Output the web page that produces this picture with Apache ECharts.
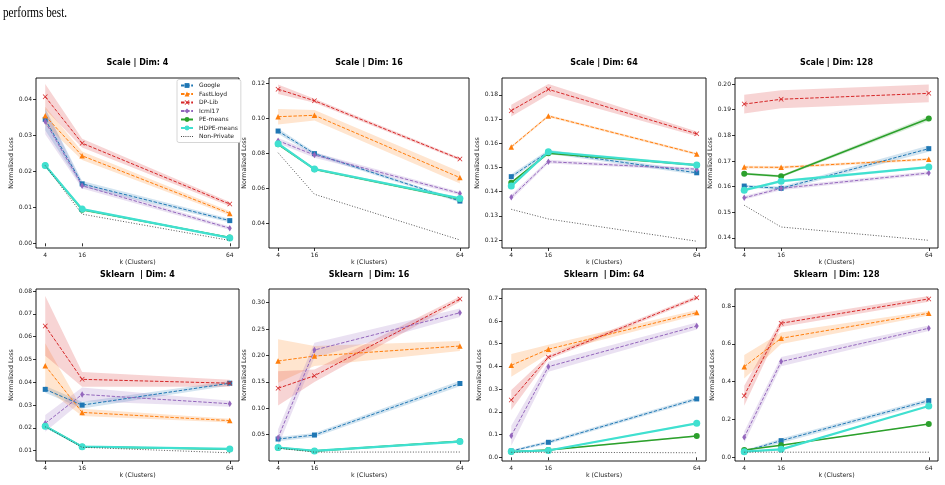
<!DOCTYPE html>
<html>
<head>
<meta charset="utf-8">
<script src="https://cdn.jsdelivr.net/npm/echarts@6/dist/echarts.min.js"></script>
<style>
html,body{margin:0;padding:0;background:#fff;}
#chart{width:945px;height:485px;}
</style>
</head>
<body>
<div id="chart"></div>
<script>
// ---------- DATA ----------
const kValues = [4, 16, 64];
const methodNames = ['Google', 'FastLloyd', 'DP-Lib', 'Icml17', 'PE-means', 'HDPE-means', 'Non-Private'];
const panelTitles = ['Scale | Dim: 4', 'Scale | Dim: 16', 'Scale | Dim: 64', 'Scale | Dim: 128',
                     'Sklearn  | Dim: 4', 'Sklearn  | Dim: 16', 'Sklearn  | Dim: 64', 'Sklearn  | Dim: 128'];
const xTickValues = [4, 16, 64];
const xAxisLabel = 'k (Clusters)';
const yAxisLabel = 'Normalized Loss';
const captionText = 'performs best.';

// rows: Google, FastLloyd, DP-Lib, Icml17, PE-means, HDPE-means, Non-Private
const scaleDim4 = [
  [0.0344, 0.0165, 0.0063],
  [0.0354, 0.0243, 0.0083],
  [0.0407, 0.0278, 0.0109],
  [0.0338, 0.0160, 0.0042],
  [0.0216, 0.0093, 0.0016],
  [0.0216, 0.0095, 0.0015],
  [0.0216, 0.0081, 0.0008]
];
const scaleDim16 = [
  [0.0927, 0.0798, 0.0527],
  [0.1009, 0.1017, 0.0661],
  [0.1166, 0.1100, 0.0767],
  [0.0872, 0.0790, 0.0571],
  [0.0851, 0.0709, 0.0539],
  [0.0855, 0.0710, 0.0542],
  [0.0803, 0.0566, 0.0305]
];
const scaleDim64 = [
  [0.1462, 0.1565, 0.1478],
  [0.1585, 0.1713, 0.1556],
  [0.1735, 0.1823, 0.1639],
  [0.1377, 0.1524, 0.1493],
  [0.1437, 0.1559, 0.1510],
  [0.1423, 0.1565, 0.1510],
  [0.1327, 0.1287, 0.1195]
];
const scaleDim128 = [
  [0.1602, 0.1593, 0.1748],
  [0.1676, 0.1675, 0.1707],
  [0.1922, 0.1941, 0.1964],
  [0.1556, 0.1593, 0.1653],
  [0.1650, 0.1640, 0.1866],
  [0.1586, 0.1621, 0.1676],
  [0.1527, 0.1442, 0.1390]
];
const sklearnDim4 = [
  [0.0369, 0.0300, 0.0396],
  [0.0473, 0.0268, 0.0232],
  [0.0647, 0.0413, 0.0396],
  [0.0220, 0.0347, 0.0306],
  [0.0208, 0.0118, 0.0107],
  [0.0207, 0.0118, 0.0108],
  [0.0205, 0.0115, 0.0091]
];
const sklearnDim16 = [
  [0.0418, 0.0494, 0.1470],
  [0.1896, 0.1990, 0.2180],
  [0.1379, 0.1617, 0.3070],
  [0.0443, 0.2104, 0.2810],
  [0.0254, 0.0191, 0.0375],
  [0.0258, 0.0193, 0.0370],
  [0.0245, 0.0170, 0.0172]
];
const sklearnDim64 = [
  [0.0278, 0.0660, 0.2570],
  [0.4050, 0.4758, 0.6370],
  [0.2524, 0.4405, 0.7030],
  [0.0952, 0.3990, 0.5780],
  [0.0247, 0.0320, 0.0938],
  [0.0250, 0.0300, 0.1497],
  [0.0220, 0.0220, 0.0200]
];
const sklearnDim128 = [
  [0.0317, 0.0880, 0.2995],
  [0.4790, 0.6295, 0.7620],
  [0.3260, 0.7090, 0.8376],
  [0.1060, 0.5060, 0.6825],
  [0.0386, 0.0635, 0.1760],
  [0.0296, 0.0420, 0.2714],
  [0.0270, 0.0270, 0.0270]
];

// half-widths of the shaded bands (Google, FastLloyd, DP-Lib, Icml17, PE-means, HDPE-means)
const scaleDim4Err = [
  [0.0030, 0.0008, 0.0005],
  [0.0025, 0.0012, 0.0006],
  [0.0035, 0.0012, 0.0006],
  [0.0035, 0.0008, 0.0005],
  [0.0003, 0.0003, 0.0002],
  [0.0003, 0.0003, 0.0002]
];
const scaleDim16Err = [
  [0.0015, 0.0010, 0.0008],
  [0.0044, 0.0030, 0.0033],
  [0.0027, 0.0012, 0.0008],
  [0.0015, 0.0015, 0.0010],
  [0.0007, 0.0007, 0.0007],
  [0.0007, 0.0007, 0.0007]
];
const scaleDim64Err = [
  [0.0010, 0.0008, 0.0008],
  [0.0005, 0.0005, 0.0005],
  [0.0024, 0.0022, 0.0010],
  [0.0010, 0.0008, 0.0006],
  [0.0005, 0.0005, 0.0005],
  [0.0005, 0.0005, 0.0005]
];
const scaleDim128Err = [
  [0.0005, 0.0007, 0.0012],
  [0.0005, 0.0005, 0.0005],
  [0.0037, 0.0035, 0.0035],
  [0.0007, 0.0007, 0.0007],
  [0.0005, 0.0005, 0.0010],
  [0.0005, 0.0005, 0.0005]
];
const sklearnDim4Err = [
  [0.0015, 0.0015, 0.0010],
  [0.0098, 0.0016, 0.0008],
  [0.0131, 0.0032, 0.0015],
  [0.0037, 0.0030, 0.0013],
  [0.0004, 0.0004, 0.0004],
  [0.0004, 0.0004, 0.0004]
];
const sklearnDim16Err = [
  [0.004, 0.004, 0.005],
  [0.041, 0.019, 0.0095],
  [0.0325, 0.012, 0.005],
  [0.016, 0.014, 0.008],
  [0.002, 0.002, 0.002],
  [0.002, 0.002, 0.002]
];
const sklearnDim64Err = [
  [0.004, 0.008, 0.008],
  [0.050, 0.020, 0.012],
  [0.044, 0.010, 0.008],
  [0.044, 0.022, 0.015],
  [0.003, 0.003, 0.003],
  [0.003, 0.003, 0.003]
];
const sklearnDim128Err = [
  [0.005, 0.012, 0.012],
  [0.062, 0.030, 0.012],
  [0.053, 0.020, 0.015],
  [0.030, 0.025, 0.015],
  [0.003, 0.003, 0.003],
  [0.003, 0.003, 0.003]
];

// y tick labels per panel
const scaleDim4Ticks = ['0.00', '0.01', '0.02', '0.03', '0.04'];
const scaleDim16Ticks = ['0.04', '0.06', '0.08', '0.10', '0.12'];
const scaleDim64Ticks = ['0.12', '0.13', '0.14', '0.15', '0.16', '0.17', '0.18'];
const scaleDim128Ticks = ['0.14', '0.15', '0.16', '0.17', '0.18', '0.19', '0.20'];
const sklearnDim4Ticks = ['0.01', '0.02', '0.03', '0.04', '0.05', '0.06', '0.07', '0.08'];
const sklearnDim16Ticks = ['0.05', '0.10', '0.15', '0.20', '0.25', '0.30'];
const sklearnDim64Ticks = ['0.0', '0.1', '0.2', '0.3', '0.4', '0.5', '0.6', '0.7'];
const sklearnDim128Ticks = ['0.0', '0.2', '0.4', '0.6', '0.8'];

// y ranges per panel [min, max]
const yRanges = [
  [-0.0013, 0.0459], [0.0259, 0.1230], [0.1167, 0.1870], [0.1360, 0.2024],
  [0.0055, 0.0809], [0.0002, 0.3260], [-0.0163, 0.7410], [-0.0196, 0.8900]
];

// ---------- STYLES ----------
const panelValues = [scaleDim4, scaleDim16, scaleDim64, scaleDim128, sklearnDim4, sklearnDim16, sklearnDim64, sklearnDim128];
const panelErrs = [scaleDim4Err, scaleDim16Err, scaleDim64Err, scaleDim128Err, sklearnDim4Err, sklearnDim16Err, sklearnDim64Err, sklearnDim128Err];
const panelTicks = [scaleDim4Ticks, scaleDim16Ticks, scaleDim64Ticks, scaleDim128Ticks, sklearnDim4Ticks, sklearnDim16Ticks, sklearnDim64Ticks, sklearnDim128Ticks];

const colors = ['#1f77b4', '#ff7f0e', '#d62728', '#9467bd', '#2ca02c', '#40e0d0', '#444444'];
const bandFills = ['rgba(31,119,180,0.2)', 'rgba(255,127,14,0.2)', 'rgba(214,39,40,0.2)', 'rgba(148,103,189,0.2)', 'rgba(44,160,44,0.2)', 'rgba(64,224,208,0.2)'];
const xPath = 'path://M1,0 L5,4 L9,0 L10,1 L6,5 L10,9 L9,10 L5,6 L1,10 L0,9 L4,5 L0,1 Z';
const dottedIcon = 'path://M0,0h1v1h-1z M2.2,0h1v1h-1z M4.4,0h1v1h-1z M6.6,0h1v1h-1z M8.8,0h1v1h-1z M11,0h1v1h-1z';
const symbols = ['rect', 'triangle', xPath, 'diamond', 'circle', 'circle', 'none'];
const symbolSizes = [5, 5.5, 5, [4, 6.5], 6, 7, 0];
const lineWidths = [1, 1, 1, 1, 1.5, 2.2, 0.9];
const lineTypes = [[3.5, 1.6], [3.5, 1.6], [3.5, 1.6], [3.5, 1.6], 'solid', 'solid', [1, 1.7]];

const colLefts = [36, 269, 502, 735];
const colWidths = [203, 200, 204, 203];
const rowTops = [78, 289];
const rowHeights = [170, 172];
const titleTops = [59, 271];
const FONT = 'DejaVu Sans';

function bandRenderer(fill) {
  return function (params, api) {
    if (params.dataIndex !== 0) return null;
    const n = params.dataInsideLength;
    const upper = [], lower = [];
    for (let i = 0; i < n; i++) {
      upper.push(api.coord([api.value(0, i), api.value(2, i)]));
      lower.push(api.coord([api.value(0, i), api.value(1, i)]));
    }
    return { type: 'polygon', shape: { points: upper.concat(lower.reverse()) }, style: { fill: fill, stroke: null } };
  };
}

const grids = [], xAxes = [], yAxes = [], titles = [], series = [];
for (let p = 0; p < 8; p++) {
  const r = Math.floor(p / 4), c = p % 4;
  grids.push({
    left: colLefts[c], top: rowTops[r], width: colWidths[c], height: rowHeights[r],
    show: true, borderColor: '#000', borderWidth: 0.9, backgroundColor: 'transparent'
  });
  titles.push({
    text: panelTitles[p], left: colLefts[c] + colWidths[c] / 2, top: titleTops[r], textAlign: 'center', padding: 0,
    textStyle: { fontFamily: FONT, fontSize: 8, fontWeight: 'bold', color: '#000' }
  });
  xAxes.push({
    type: 'value', gridIndex: p, min: 1, max: 67,
    name: xAxisLabel, nameLocation: 'middle', nameGap: 11,
    nameTextStyle: { fontFamily: FONT, fontSize: 6.3, color: '#222' },
    axisLine: { show: false },
    axisTick: { show: true, length: 3, customValues: xTickValues, lineStyle: { color: '#000', width: 0.8 } },
    axisLabel: { fontFamily: FONT, fontSize: 6, color: '#222', margin: 4, customValues: xTickValues },
    splitLine: { show: false }
  });
  const tickLabels = panelTicks[p];
  const tickVals = tickLabels.map(Number);
  yAxes.push({
    type: 'value', gridIndex: p, min: yRanges[p][0], max: yRanges[p][1],
    name: yAxisLabel, nameLocation: 'middle', nameGap: 19.5,
    nameTextStyle: { fontFamily: FONT, fontSize: 6.3, color: '#222' },
    axisLine: { show: false },
    axisTick: { show: true, length: 3, customValues: tickVals, lineStyle: { color: '#000', width: 0.8 } },
    axisLabel: {
      fontFamily: FONT, fontSize: 6, color: '#222', margin: 4, customValues: tickVals,
      formatter: function (v) {
        const i = tickVals.findIndex(t => Math.abs(t - v) < 1e-9);
        return i >= 0 ? tickLabels[i] : '';
      }
    },
    splitLine: { show: false }
  });

  const vals = panelValues[p], errs = panelErrs[p];
  // shaded bands
  for (let m = 0; m < 6; m++) {
    series.push({
      type: 'custom', name: 'band', xAxisIndex: p, yAxisIndex: p, silent: true, z: 1,
      encode: { x: 0, y: [1, 2] },
      renderItem: bandRenderer(bandFills[m]),
      data: kValues.map((k, i) => [k, vals[m][i] - errs[m][i], vals[m][i] + errs[m][i]])
    });
  }
  // lines
  for (let m = 0; m < 7; m++) {
    series.push({
      type: 'line', name: methodNames[m], xAxisIndex: p, yAxisIndex: p,
      symbol: symbols[m], symbolSize: symbolSizes[m], showSymbol: m !== 6,
      lineStyle: { color: colors[m], width: lineWidths[m], type: lineTypes[m] },
      itemStyle: { color: colors[m], borderWidth: 0 },
      z: 3 + m,
      data: kValues.map((k, i) => [k, vals[m][i]])
    });
  }
}

const legendData = methodNames.map((n, i) => i === 6 ? { name: n, icon: dottedIcon } : { name: n });

const chart = echarts.init(document.getElementById('chart'), null, { renderer: 'canvas' });
chart.setOption({
  animation: false,
  backgroundColor: '#fff',
  title: titles,
  grid: grids,
  xAxis: xAxes,
  yAxis: yAxes,
  legend: {
    data: legendData, orient: 'vertical', left: 177, top: 79.5,
    padding: [3, 3, 3, 3], itemGap: 2.5, itemWidth: 12, itemHeight: 6,
    backgroundColor: '#fff', borderColor: '#ccc', borderWidth: 0.8, borderRadius: 2,
    textStyle: { fontFamily: FONT, fontSize: 6, color: '#222', lineHeight: 6, padding: [0, 0, 0, 1] },
    selectedMode: false, z: 20
  },
  graphic: [{
    type: 'text', left: 3, top: 6, scaleX: 0.8,
    style: { text: captionText, fontFamily: 'Liberation Serif', fontSize: 14, fill: '#000' }
  }],
  series: series
});
</script>
</body>
</html>
